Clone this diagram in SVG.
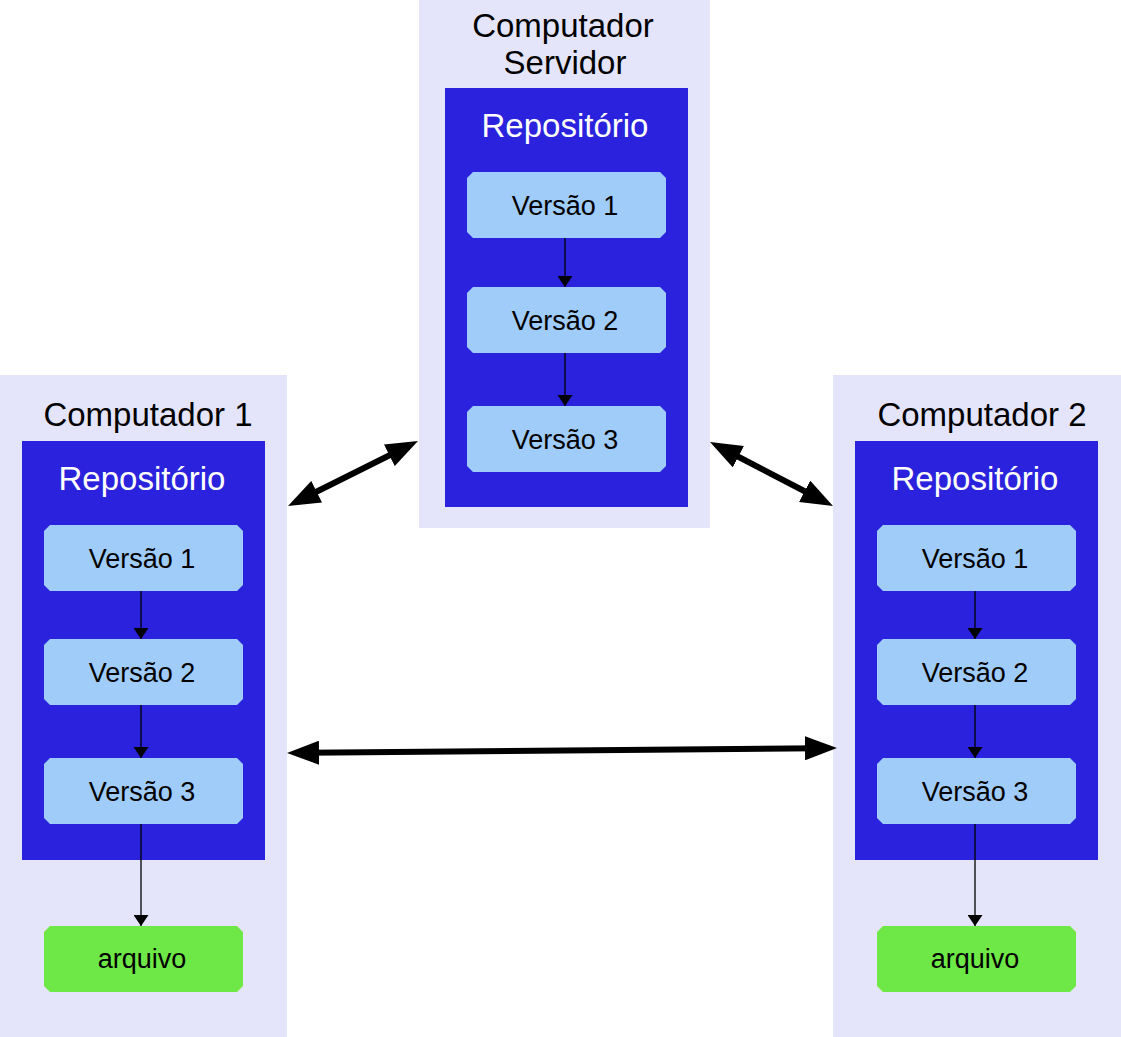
<svg xmlns="http://www.w3.org/2000/svg" xmlns:xlink="http://www.w3.org/1999/xlink" width="1121" height="1037" viewBox="0 0 1121 1037">
<style>
.panel{fill:#e4e4fa}
.repo{fill:#2a22dc}
.ver{fill:#a0ccfa}
.file{fill:#6ee846}
.t{font-family:"Liberation Sans",Arial,sans-serif;text-anchor:middle}
.title{font-size:33px;fill:#000}
.rt{font-size:33px;fill:#fff}
.vt{font-size:27px;fill:#000}
.ft{font-size:27px;fill:#000}
.thin{stroke:#000;stroke-width:1.3;fill:none}
.thick{stroke:#000;stroke-width:6;fill:none}
</style>
<defs>
<path id="box" d="M6,0 H193 L199,6 V60 L193,66 H6 L0,60 V6 Z"/>
<marker id="ah" viewBox="0 0 10 10" refX="10" refY="5" markerWidth="11" markerHeight="15" markerUnits="userSpaceOnUse" orient="auto" preserveAspectRatio="none"><path d="M0,0 L10,5 L0,10 Z" fill="#000"/></marker>
<marker id="big" viewBox="0 0 10 10" refX="3.75" refY="5" markerWidth="32" markerHeight="24" markerUnits="userSpaceOnUse" orient="auto-start-reverse" preserveAspectRatio="none"><path d="M0,0 L10,5 L0,10 Z" fill="#000"/></marker>
</defs>

<g id="server">
<rect class="panel" x="419" y="0" width="291" height="528"/>
<text class="t title" x="563" y="37">Computador</text>
<text class="t title" x="565" y="74">Servidor</text>
<rect class="repo" x="445" y="88" width="243" height="419"/>
<text class="t rt" x="565" y="137">Repositório</text>
</g>
<g id="server-v1"><use href="#box" class="ver" x="467" y="172"/><text class="t vt" x="565" y="215">Versão 1</text></g>
<g id="server-v2"><use href="#box" class="ver" x="467" y="287"/><text class="t vt" x="565" y="330">Versão 2</text></g>
<g id="server-v3"><use href="#box" class="ver" x="467" y="406"/><text class="t vt" x="565" y="449">Versão 3</text></g>

<g id="comp1">
<rect class="panel" x="0" y="375" width="287" height="662"/>
<text class="t title" x="148" y="426">Computador 1</text>
<rect class="repo" x="22" y="441" width="243" height="419"/>
<text class="t rt" x="142" y="490">Repositório</text>
</g>
<g id="c1-v1"><use href="#box" class="ver" x="44" y="525"/><text class="t vt" x="142" y="568">Versão 1</text></g>
<g id="c1-v2"><use href="#box" class="ver" x="44" y="639"/><text class="t vt" x="142" y="682">Versão 2</text></g>
<g id="c1-v3"><use href="#box" class="ver" x="44" y="758"/><text class="t vt" x="142" y="801">Versão 3</text></g>
<g id="c1-file"><use href="#box" class="file" x="44" y="926"/><text class="t ft" x="142" y="968">arquivo</text></g>

<g id="comp2">
<rect class="panel" x="833" y="375" width="288" height="662"/>
<text class="t title" x="982" y="426">Computador 2</text>
<rect class="repo" x="855" y="441" width="243" height="419"/>
<text class="t rt" x="975" y="490">Repositório</text>
</g>
<g id="c2-v1"><use href="#box" class="ver" x="877" y="525"/><text class="t vt" x="975" y="568">Versão 1</text></g>
<g id="c2-v2"><use href="#box" class="ver" x="877" y="639"/><text class="t vt" x="975" y="682">Versão 2</text></g>
<g id="c2-v3"><use href="#box" class="ver" x="877" y="758"/><text class="t vt" x="975" y="801">Versão 3</text></g>
<g id="c2-file"><use href="#box" class="file" x="877" y="926"/><text class="t ft" x="975" y="968">arquivo</text></g>

<g id="connectors">
<line class="thin" x1="565" y1="238" x2="565" y2="287" marker-end="url(#ah)"/>
<line class="thin" x1="565" y1="353" x2="565" y2="406" marker-end="url(#ah)"/>
<line class="thin" x1="141" y1="591" x2="141" y2="639" marker-end="url(#ah)"/>
<line class="thin" x1="141" y1="705" x2="141" y2="758" marker-end="url(#ah)"/>
<line class="thin" x1="141" y1="824" x2="141" y2="926" marker-end="url(#ah)"/>
<line class="thin" x1="975" y1="591" x2="975" y2="639" marker-end="url(#ah)"/>
<line class="thin" x1="975" y1="705" x2="975" y2="758" marker-end="url(#ah)"/>
<line class="thin" x1="975" y1="824" x2="975" y2="926" marker-end="url(#ah)"/>
<line class="thick" x1="305.9" y1="497.05" x2="400.1" y2="449.95" marker-start="url(#big)" marker-end="url(#big)"/>
<line class="thick" x1="727.74" y1="451.23" x2="815.26" y2="496.77" marker-start="url(#big)" marker-end="url(#big)"/>
<line class="thick" x1="307" y1="752.82" x2="817" y2="748.18" marker-start="url(#big)" marker-end="url(#big)"/>
</g>
</svg>
